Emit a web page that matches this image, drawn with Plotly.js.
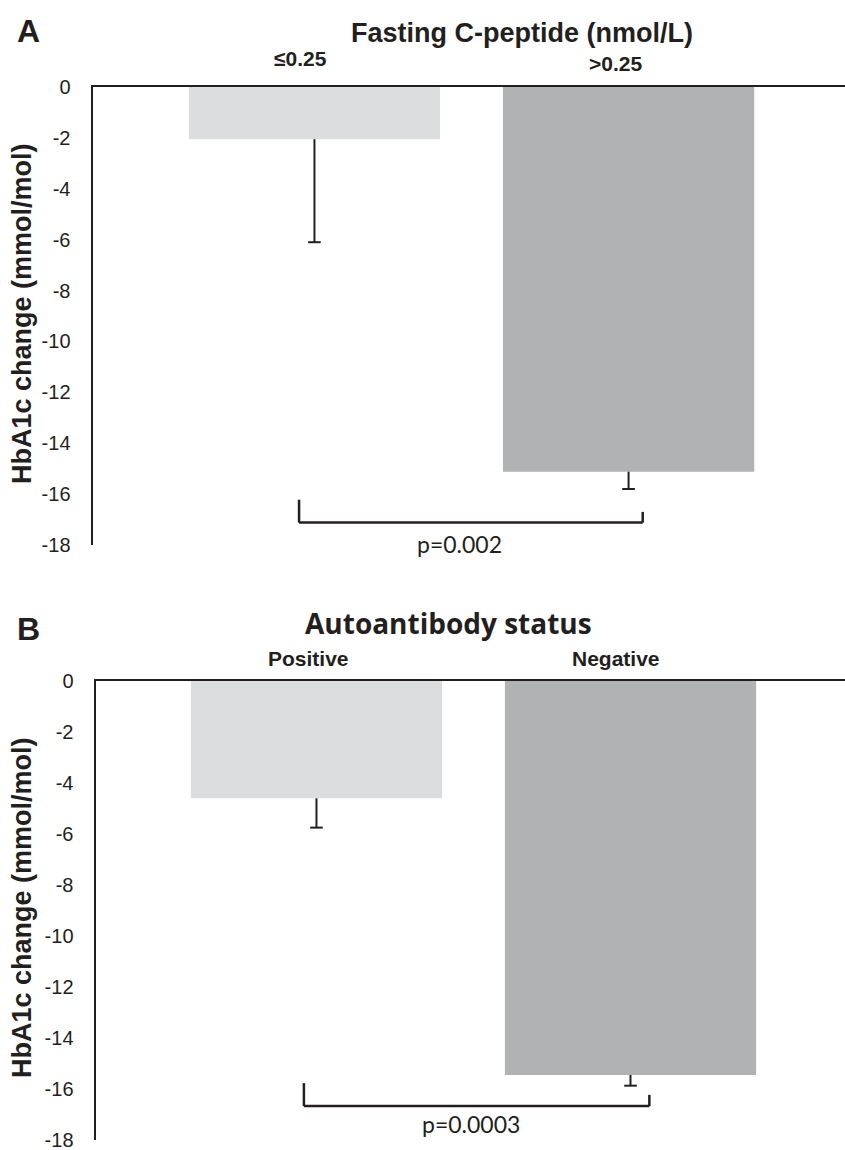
<!DOCTYPE html>
<html>
<head>
<meta charset="utf-8">
<script src="https://cdn.plot.ly/plotly-3.0.1.min.js"></script>
<style>html,body{margin:0;padding:0;background:#fff;}#chart{width:845px;height:1150px;}</style>
</head>
<body>
<div id="chart"></div>
<script>
// ---- data ----
const titleA = 'Fasting C-peptide (nmol/L)';
const categoriesA = ['\u22640.25', '>0.25'];
const valuesA = [-2.05, -15.12];
const errMinusA = [4.05, 0.68];
const pTextA = 'p=0.002';

const titleB = 'Autoantibody status';
const categoriesB = ['Positive', 'Negative'];
const valuesB = [-4.6, -15.45];
const errMinusB = [1.15, 0.42];
const pTextB = 'p=0.0003';

const yTickVals = [0, -2, -4, -6, -8, -10, -12, -14, -16, -18];
const yTickText = ['0', '-2', '-4', '-6', '-8', '-10', '-12', '-14', '-16', '-18'];
const yTitle = 'HbA1c change (mmol/mol)';
const panelLabels = ['A', 'B'];

// ---- styles ----
const W = 845, H = 1150;
const ink = '#231f20';
const barColors = ['#dcdddf', '#b1b2b4'];
const arial = "'Liberation Sans', Arial, sans-serif";
const humanist = "Lato, 'Open Sans', sans-serif";
const px = x => x / W;
const py = y => 1 - y / H;

function barTrace(cats, vals, xa, ya) {
  return {
    type: 'bar', x: cats, y: vals, xaxis: xa, yaxis: ya,
    width: 0.8,
    marker: {color: barColors, line: {width: 0}},
    hoverinfo: 'skip', showlegend: false
  };
}
function errTrace(cats, vals, errs, xa, ya) {
  return {
    type: 'scatter', mode: 'markers', x: cats, y: vals, xaxis: xa, yaxis: ya,
    marker: {size: 0.1, color: 'rgba(0,0,0,0)'},
    error_y: {type: 'data', symmetric: false, array: vals.map(() => 0), arrayminus: errs,
              color: ink, thickness: 2, width: 0},
    hoverinfo: 'skip', showlegend: false
  };
}
function capTrace(cats, vals, errs, xa, ya) {
  return {
    type: 'scatter', mode: 'markers', x: cats, y: vals.map((v, i) => v - errs[i]),
    xaxis: xa, yaxis: ya,
    marker: {symbol: 'line-ew', size: 9, line: {width: 2, color: ink}, color: ink},
    hoverinfo: 'skip', showlegend: false
  };
}

const data = [
  barTrace(categoriesA, valuesA, 'x', 'y'),
  errTrace(categoriesA, valuesA, errMinusA, 'x', 'y'),
  capTrace(categoriesA, valuesA, errMinusA, 'x', 'y'),
  barTrace(categoriesB, valuesB, 'x2', 'y2'),
  errTrace(categoriesB, valuesB, errMinusB, 'x2', 'y2'),
  capTrace(categoriesB, valuesB, errMinusB, 'x2', 'y2')
];

function xAxis(domainLeft, range, anchor) {
  return {
    type: 'category', domain: [domainLeft, 1], range: range, anchor: anchor,
    side: 'top', showline: true, linecolor: ink, linewidth: 2.5,
    showticklabels: false, ticks: '', showgrid: false, zeroline: false, fixedrange: true
  };
}
function yAxis(domain, anchor) {
  return {
    domain: domain, range: [-18, 0], anchor: anchor,
    showline: true, linecolor: ink, linewidth: 2.5, mirror: false,
    tickmode: 'array', tickvals: yTickVals, ticktext: yTickText,
    ticks: '', ticklabelstandoff: 16, ticklabeloverflow: 'allow',
    tickfont: {family: arial, size: 20, color: ink},
    showgrid: false, zeroline: false, fixedrange: true
  };
}

const lineStyle = {color: ink, width: 2.5};
function bracket(xref, yref, xl, xr, yl, yr, yb) {
  return [
    {type: 'line', xref, yref, x0: xl, x1: xl, y0: yl, y1: yb, line: lineStyle},
    {type: 'line', xref, yref, x0: xl, x1: xr, y0: yb, y1: yb, line: lineStyle},
    {type: 'line', xref, yref, x0: xr, x1: xr, y0: yr, y1: yb, line: lineStyle}
  ];
}

const catFont = {family: arial, size: 21, color: ink};
const annotations = [
  {text: '<b>' + panelLabels[0] + '</b>', x: px(29), y: py(31), font: {family: arial, size: 32, color: ink}},
  {text: '<b>' + panelLabels[1] + '</b>', x: px(29), y: py(629), font: {family: arial, size: 32, color: ink}},
  {text: '<b>' + titleA + '</b>', x: px(522), y: py(33), font: {family: arial, size: 27, color: ink}},
  {text: '<b>' + titleB + '</b>', x: px(448), y: py(623), font: {family: "'Open Sans', sans-serif", size: 28, color: ink}},
  {text: '<b>' + categoriesA[0] + '</b>', x: px(300), y: py(59), font: catFont},
  {text: '<b>' + categoriesA[1] + '</b>', x: px(615), y: py(64), font: catFont},
  {text: '<b>' + categoriesB[0] + '</b>', x: px(308), y: py(658), font: catFont},
  {text: '<b>' + categoriesB[1] + '</b>', x: px(616), y: py(658), font: catFont},
  {text: '<b>' + yTitle + '</b>', x: px(22), y: py(314), textangle: -90, font: {family: arial, size: 27, color: ink}},
  {text: '<b>' + yTitle + '</b>', x: px(22), y: py(908), textangle: -90, font: {family: arial, size: 27, color: ink}},
  {text: pTextA, x: px(459), y: py(544), font: {family: humanist, size: 23, color: ink}},
  {text: pTextB, x: px(471), y: py(1124), font: {family: humanist, size: 23, color: ink}}
].map(a => Object.assign({xref: 'paper', yref: 'paper', xanchor: 'center', yanchor: 'middle', showarrow: false}, a));

const layout = {
  width: W, height: H,
  margin: {l: 0, r: 0, t: 0, b: 0},
  paper_bgcolor: '#ffffff', plot_bgcolor: 'rgba(0,0,0,0)',
  showlegend: false,
  bargap: 0.2,
  xaxis: xAxis(px(93), [-0.705, 1.689], 'y'),
  yaxis: yAxis([py(545), py(87)], 'x'),
  xaxis2: xAxis(px(96), [-0.702, 1.683], 'y2'),
  yaxis2: yAxis([py(1140), py(681)], 'x2'),
  shapes: [].concat(
    bracket('x', 'y', -0.049, 1.045, -16.22, -16.7, -17.12),
    bracket('x2', 'y2', -0.04, 1.06, -15.77, -16.23, -16.67)
  ),
  annotations: annotations
};

Plotly.newPlot('chart', data, layout, {staticPlot: true, displayModeBar: false});
</script>
</body>
</html>
